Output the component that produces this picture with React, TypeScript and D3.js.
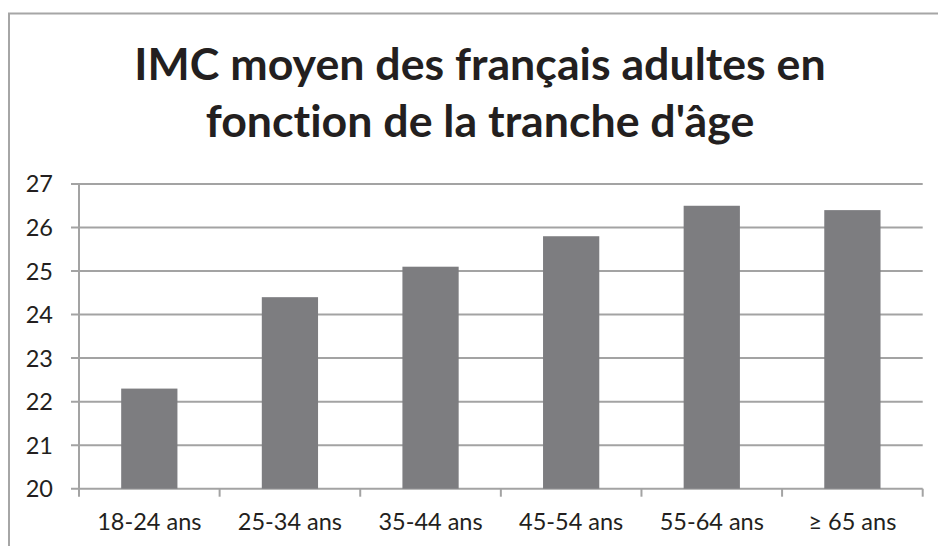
import React from "react";
import * as d3 from "d3";

const categories = ["18-24 ans", "25-34 ans", "35-44 ans", "45-54 ans", "55-64 ans", "≥ 65 ans"];
const imcValues = [22.3, 24.4, 25.1, 25.8, 26.5, 26.4];
const yTicks = [20, 21, 22, 23, 24, 25, 26, 27];
const titleLines = ["IMC moyen des français adultes en", "fonction de la tranche d'âge"];

const W = 938;
const H = 546;
const FONT = "Lato, 'Open Sans', sans-serif";

export default function App() {
  const left = 79;
  const right = 922.7;
  const top = 184;
  const bottom = 488.7;

  const x = d3
    .scaleBand<string>()
    .domain(categories)
    .range([left, right])
    .paddingInner(0.6)
    .paddingOuter(0.3);
  const step = x.step();
  const y = d3.scaleLinear().domain([20, 27]).range([bottom, top]);

  const gridColor = "#a3a3a3";
  const textColor = "#231f20";
  const noLig = { fontVariantLigatures: "none", fontFeatureSettings: "'liga' 0, 'clig' 0, 'dlig' 0" } as React.CSSProperties;

  return (
    <svg
      width={W}
      height={H}
      style={{ position: "absolute", left: 0, top: 0, background: "#fff", ...noLig }}
      fontFamily={FONT}
    >
      <rect x={0} y={0} width={W} height={H} fill="#fff" />
      <rect x={9} y={13.5} width={1000} height={1000} fill="none" stroke="#a6a6a6" strokeWidth={2} />
      {titleLines.map((t, i) => (
        <text
          key={i}
          x={480}
          y={80 + i * 57}
          textAnchor="middle"
          fontSize={44.7}
          fontWeight={700}
          fill={textColor}
          style={noLig}
        >
          {t}
        </text>
      ))}
      {yTicks.map((v) => (
        <g key={v}>
          <line x1={left - 8} x2={right} y1={y(v)} y2={y(v)} stroke={gridColor} strokeWidth={2} />
          <text
            x={53}
            y={y(v)}
            dy="0.36em"
            textAnchor="end"
            fontSize={23.5}
            fill={textColor}
          >
            {v}
          </text>
        </g>
      ))}
      <line x1={left} x2={left} y1={top} y2={bottom} stroke={gridColor} strokeWidth={2} />
      {d3.range(categories.length + 1).map((i) => (
        <line
          key={i}
          x1={left + i * step}
          x2={left + i * step}
          y1={bottom}
          y2={bottom + 8}
          stroke={gridColor}
          strokeWidth={2}
        />
      ))}
      {categories.map((c, i) => (
        <g key={c}>
          <rect
            x={x(c)}
            y={y(imcValues[i])}
            width={x.bandwidth()}
            height={bottom - y(imcValues[i])}
            fill="#7d7d80"
          />
          <text
            x={(x(c) as number) + x.bandwidth() / 2}
            y={530}
            textAnchor="middle"
            fontSize={23.5}
            fill={textColor}
          >
            {c}
          </text>
        </g>
      ))}
    </svg>
  );
}
